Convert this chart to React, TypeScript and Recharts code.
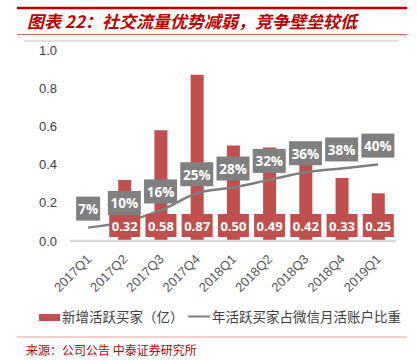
import React from 'react';
import { ComposedChart, Bar, Line, XAxis, YAxis, LabelList } from 'recharts';

// --- data ---
const quarters = ['2017Q1', '2017Q2', '2017Q3', '2017Q4', '2018Q1', '2018Q2', '2018Q3', '2018Q4', '2019Q1'];
const newActiveBuyers = [null, 0.32, 0.58, 0.87, 0.5, 0.49, 0.42, 0.33, 0.25]; // 亿
const buyerShareOfWechat = [0.07, 0.1, 0.16, 0.25, 0.28, 0.32, 0.36, 0.38, 0.4];
const yTicks = [0, 0.2, 0.4, 0.6, 0.8, 1.0];

const data = quarters.map((q, i) => ({
  quarter: q,
  buyers: newActiveBuyers[i],
  share: buyerShareOfWechat[i],
}));

const RED = '#c0504d';
const GREY = '#7f7f7f';
const CJK = '"Noto Sans CJK SC", "Noto Sans", sans-serif';

const XTick = (props: any) => {
  const { x, y, payload } = props;
  const ax = x + 4;
  const ay = y + 11;
  return (
    <text x={ax} y={ay} transform={`rotate(-45 ${ax} ${ay})`} textAnchor="end"
      fontSize={13} fill="#595959" fontFamily='"Liberation Sans", Arial, sans-serif'>
      {payload.value}
    </text>
  );
};

// red box with value, sitting at the foot of each bar
const BarValueLabel = (props: any) => {
  const { x, y, width, height, value } = props;
  if (value == null) return null;
  const cx = x + width / 2;
  const bottom = y + height;
  return (
    <g>
      <rect x={cx - 15.5} y={bottom - 27} width={31} height={23} fill={RED} />
      <text x={cx} y={bottom - 15} textAnchor="middle" dominantBaseline="central"
        fill="#fff" fontSize={13} fontWeight={700} fontFamily='"Open Sans", sans-serif'>
        {Number(value).toFixed(2)}
      </text>
    </g>
  );
};

// grey box with percentage above each line point
const ShareLabel = (props: any) => {
  const { x, y, value } = props;
  const txt = `${Math.round(value * 100)}%`;
  const w = txt.length * 9 + 6;
  return (
    <g>
      <rect x={x - w / 2} y={y - 31} width={w} height={24} fill="#808080" />
      <text x={x} y={y - 18.5} textAnchor="middle" dominantBaseline="central"
        fill="#fff" fontSize={13.5} fontWeight={700} fontFamily='"Open Sans", sans-serif'>
        {txt}
      </text>
    </g>
  );
};

export default function App() {
  return (
    <div style={{ position: 'absolute', left: 0, top: 0, width: 417, height: 360, background: '#fff' }}>
      <svg width={417} height={360} style={{ position: 'absolute', left: 0, top: 0 }}>
        <line x1={17} x2={407} y1={8} y2={8} stroke="#c00000" strokeWidth={2.5} />
        <text x={27} y={28} fontSize={17} fontWeight={700} fontStyle="italic" fill="#c00000" fontFamily={CJK}>
          图表 22：社交流量优势减弱，竞争壁垒较低
        </text>
        <line x1={17} x2={407} y1={34.5} y2={34.5} stroke="#e06666" strokeWidth={1} />
        <line x1={24} x2={398} y1={41} y2={41} stroke="#bfbfbf" strokeWidth={1} />

        {/* legend */}
        <rect x={39} y={314} width={21} height={7} fill={RED} />
        <text x={62} y={322} fontSize={13.5} fill="#404040" fontFamily={CJK}>新增活跃买家（亿）</text>
        <line x1={188} x2={210} y1={316.5} y2={316.5} stroke={GREY} strokeWidth={2} />
        <text x={212} y={322} fontSize={13.5} fill="#404040" fontFamily={CJK}>年活跃买家占微信月活账户比重</text>

        <line x1={17} x2={407} y1={337} y2={337} stroke="#e8a0a0" strokeWidth={1} />
        <text x={26} y={355} fontSize={12} fill="#c00000" fontFamily={CJK}>来源：公司公告 中泰证券研究所</text>
      </svg>
      <div style={{ position: 'absolute', left: 0, top: 0 }}>
        <ComposedChart width={417} height={360} data={data}
          margin={{ top: 50, right: 21, bottom: 0, left: 0 }}>
          <XAxis dataKey="quarter" height={119} interval={0} tick={<XTick />} tickLine={false}
            axisLine={{ stroke: '#d9d9d9', strokeWidth: 2.5 }} />
          <YAxis domain={[0, 1]} ticks={yTicks} width={70} axisLine={false} tickLine={false}
            tickMargin={7} tickFormatter={(v: number) => v.toFixed(1)}
            tick={{ fontSize: 13, fill: '#404040', fontFamily: '"Liberation Sans", Arial, sans-serif' }} />
          <Bar dataKey="buyers" fill={RED} barSize={13} isAnimationActive={false}>
            <LabelList dataKey="buyers" content={<BarValueLabel />} />
          </Bar>
          <Line dataKey="share" type="monotone" stroke={GREY} strokeWidth={2.5} dot={false}
            isAnimationActive={false}>
            <LabelList dataKey="share" content={<ShareLabel />} />
          </Line>
        </ComposedChart>
      </div>
    </div>
  );
}
